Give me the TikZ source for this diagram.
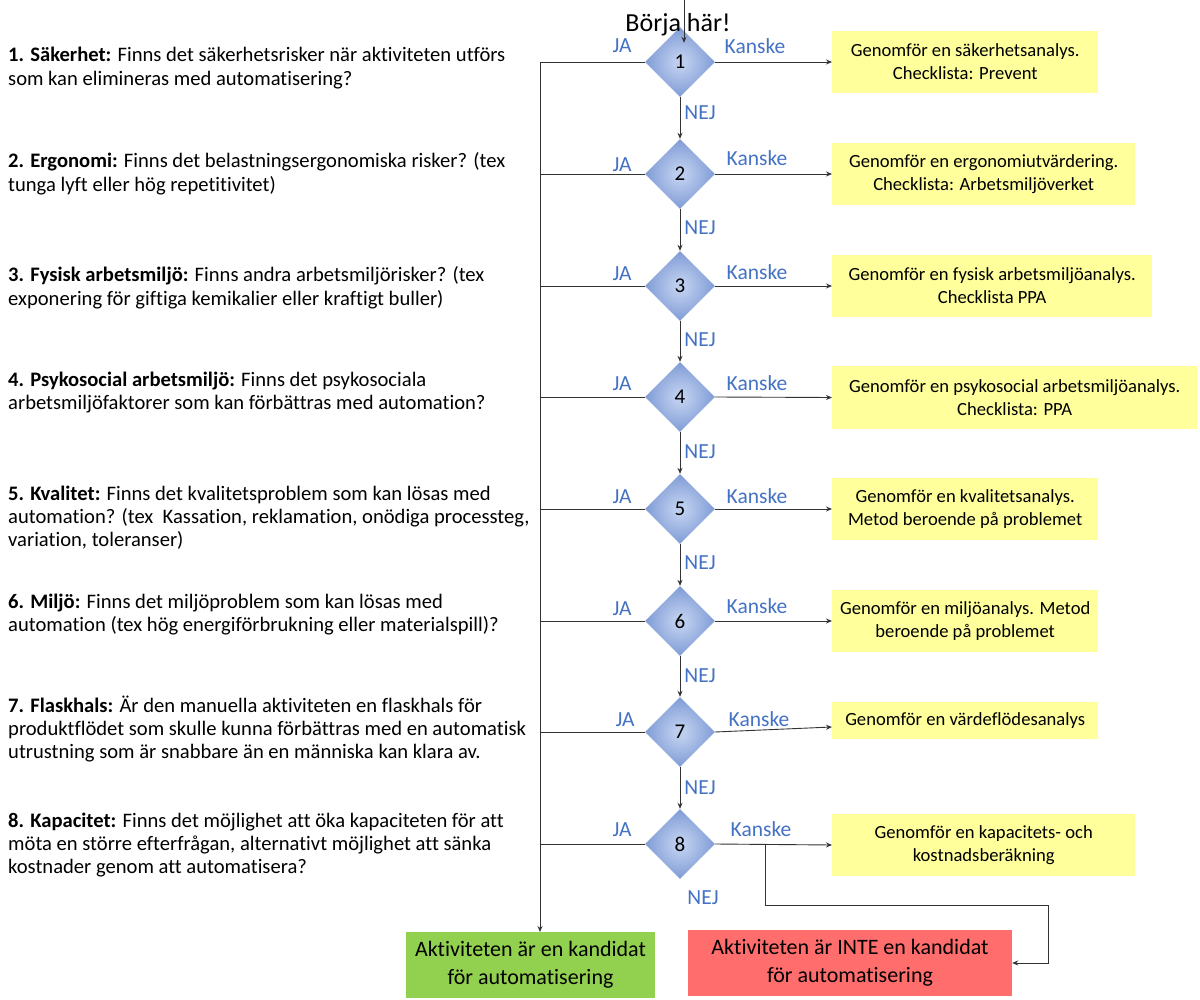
\documentclass[tikz,border=0pt]{standalone}
\usepackage{fontspec}
\setmainfont{Carlito}[Ligatures=NoCommon]
\usetikzlibrary{shapes.geometric,arrows.meta,calc}
\definecolor{lblue}{HTML}{4472C4}
\definecolor{dinner}{HTML}{BCCDEE}
\definecolor{douter}{HTML}{4F74C2}
\definecolor{yel}{HTML}{FFFF9B}
\definecolor{grn}{HTML}{92D050}
\definecolor{rd}{HTML}{FF6D6D}
\pgfdeclareradialshading{diash}{\pgfpoint{0bp}{0bp}}{color(0bp)=(dinner); color(4bp)=(dinner); color(42bp)=(douter); color(80bp)=(douter)}
\begin{document}
\begin{tikzpicture}[x=1pt,y=-1pt,
  dia/.style={diamond, minimum width=70pt, minimum height=70pt, inner sep=0pt, shading=diash, font=\fontsize{21}{24}\selectfont},
  ybox/.style={fill=yel, anchor=west, align=center, inner sep=0pt, font=\fontsize{18.6}{23}\selectfont},
  endbox/.style={align=center, inner sep=0pt, font=\fontsize{22}{28}\selectfont},
  q/.style={anchor=base west, inner sep=0pt},
  lab/.style={text=lblue, font=\fontsize{21.5}{24}\selectfont, inner sep=0pt},
  conn/.style={draw=black!80, line width=0.9pt},
  arr/.style={conn, -{Stealth[length=6pt,width=5pt]}}
]
\useasboundingbox (0,0) rectangle (1200,1000);
\fill[white] (0,0) rectangle (1200,1000);

% questions
\newcommand{\qtext}[1]{\parbox[t]{540pt}{\fontsize{20.6}{23.4}\selectfont #1}}
\node[q] (q1) at (8,62) {\qtext{\textbf{1. Säkerhet:} Finns det säkerhetsrisker när aktiviteten utförs\\som kan elimineras med automatisering?}};
\node[q] (q2) at (8,168) {\qtext{\textbf{2. Ergonomi:} Finns det belastningsergonomiska risker? (tex\\tunga lyft eller hög repetitivitet)}};
\node[q] (q3) at (8,282) {\qtext{\textbf{3. Fysisk arbetsmiljö:} Finns andra arbetsmiljörisker? (tex\\exponering för giftiga kemikalier eller kraftigt buller)}};
\node[q] (q4) at (8,386) {\qtext{\textbf{4. Psykosocial arbetsmiljö:} Finns det psykosociala\\arbetsmiljöfaktorer som kan förbättras med automation?}};
\node[q] (q5) at (8,500) {\qtext{\textbf{5. Kvalitet:} Finns det kvalitetsproblem som kan lösas med\\automation? (tex\ \ Kassation, reklamation, onödiga processteg,\\variation, toleranser)}};
\node[q] (q6) at (8,608) {\qtext{\textbf{6. Miljö:} Finns det miljöproblem som kan lösas med\\automation (tex hög energiförbrukning eller materialspill)?}};
\node[q] (q7) at (8,712) {\qtext{\textbf{7. Flaskhals:} Är den manuella aktiviteten en flaskhals för\\produktflödet som skulle kunna förbättras med en automatisk\\utrustning som är snabbare än en människa kan klara av.}};
\node[q] (q8) at (8,827) {\qtext{\textbf{8. Kapacitet:} Finns det möjlighet att öka kapaciteten för att\\möta en större efterfrågan, alternativt möjlighet att sänka\\kostnader genom att automatisera?}};

% diamonds
\node[dia] (d1) at (680,62) {1};
\node[dia] (d2) at (680,174) {2};
\node[dia] (d3) at (680,286) {3};
\node[dia] (d4) at (680,397) {4};
\node[dia] (d5) at (680,509) {5};
\node[dia] (d6) at (680,621) {6};
\node[dia] (d7) at (680,732) {7};
\node[dia] (d8) at (680,844) {8};

% yellow boxes
\node[ybox, minimum width=266pt, minimum height=62pt] (y1) at (832,62) {Genomför en säkerhetsanalys.\\Checklista: Prevent};
\node[ybox, minimum width=303pt, minimum height=62pt] (y2) at (832,174) {Genomför en ergonomiutvärdering.\\Checklista: Arbetsmiljöverket};
\node[ybox, minimum width=320pt, minimum height=62pt] (y3) at (832,286) {Genomför en fysisk arbetsmiljöanalys.\\Checklista PPA};
\node[ybox, minimum width=365pt, minimum height=62pt] (y4) at (832,397.5) {Genomför en psykosocial arbetsmiljöanalys.\\Checklista: PPA};
\node[ybox, minimum width=266pt, minimum height=62pt] (y5) at (832,509) {Genomför en kvalitetsanalys.\\Metod beroende på problemet};
\node[ybox, minimum width=266pt, minimum height=62pt] (y6) at (832,621) {Genomför en miljöanalys. Metod\\beroende på problemet};
\node[ybox, minimum width=266pt, minimum height=37pt] (y7) at (832,720.5) {Genomför en värdeflödesanalys};
\node[ybox, minimum width=303pt, minimum height=62pt] (y8) at (832,845) {Genomför en kapacitets- och\\kostnadsberäkning};

% end boxes
\node[endbox, fill=grn, minimum width=249pt, minimum height=66pt] (green) at (530.5,965) {Aktiviteten är en kandidat\\för automatisering};
\node[endbox, fill=rd, minimum width=324pt, minimum height=66pt] (red) at (850,963) {Aktiviteten är INTE en kandidat\\för automatisering};

% start
\node[font=\fontsize{26}{30}\selectfont, inner sep=0pt, anchor=base] (start) at (678,32) {Börja här!};
\coordinate (s0) at (684,0);
\draw[arr] (s0) -- ([xshift=4pt,yshift=-16pt]d1.north);

% labels
\foreach \x/\y in {622/46,622/165,622/274,622/384,622/497,622/609,625/720,622/830}
  \node[lab] at (\x,\y) {JA};
\foreach \x/\y in {755/46,757/158,757/272,757/383,757/496,757/606,759/719,761/829}
  \node[lab] at (\x,\y) {Kanske};
\foreach \x/\y in {700/113,700/228,700/340,700/452,700/563,700/676,700/788,703/898}
  \node[lab] at (\x,\y) {NEJ};

% connectors
\foreach \i/\j in {1/2,2/3,3/4,4/5,5/6,6/7,7/8}
  \draw[arr] (d\i.south) -- (d\j.north);
\foreach \i in {1,2,3,4,5,6,8}
  \draw[arr] (d\i.east) -- (y\i.west);
\draw[arr] (d7.east) -- ([yshift=-6.5pt]y7.west);

\coordinate (gtop) at (540,932);
\draw[arr] (d1.west) -| (gtop);
\foreach \i in {2,...,8}
  \draw[conn] (d\i.west) -- (d\i.west -| gtop);

\coordinate (br) at (765,844);
\coordinate (c2) at (1048,905);
\draw[arr] (br) |- (c2) |- (red.east);
\end{tikzpicture}
\end{document}
